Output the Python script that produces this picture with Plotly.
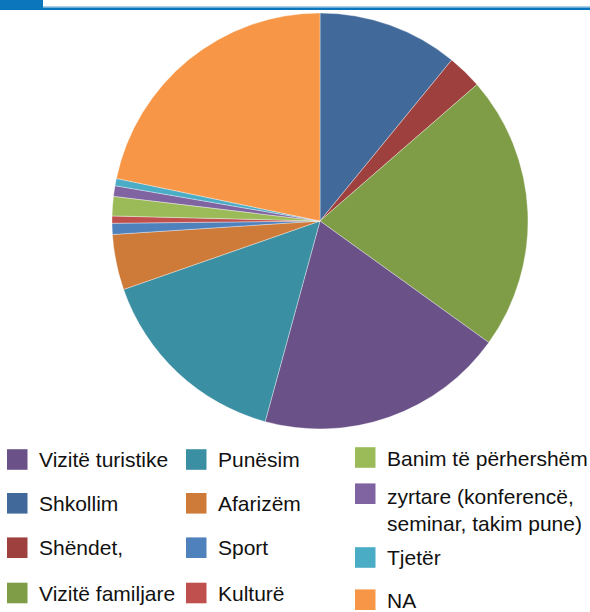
import plotly.graph_objects as go

W, H = 590, 612

# Pie data in clockwise order from 12 o'clock
labels = ["Shkollim", "Shëndet,", "Vizitë familjare", "Vizitë turistike", "Punësim",
          "Afarizëm", "Sport", "Kulturë", "Banim të përhershëm",
          "zyrtare (konferencë,<br>seminar, takim pune)", "Tjetër", "NA"]
values = [10.9, 2.7, 21.3, 19.3, 15.4, 4.3, 0.86, 0.56, 1.5, 0.83, 0.56, 21.7]
colors = ["#416A9B", "#9E413E", "#7F9C46", "#6A5289", "#3B8FA3", "#CE7A38",
          "#4F81BD", "#C0504D", "#9BBB59", "#8064A2", "#4BACC6", "#F79646"]

# Legend layout (column-major, as in the reference)
legend_cols = [
    ["Vizitë turistike", "Shkollim", "Shëndet,", "Vizitë familjare"],
    ["Punësim", "Afarizëm", "Sport", "Kulturë"],
    ["Banim të përhershëm", "zyrtare (konferencë,<br>seminar, takim pune)", "Tjetër", "NA"],
]

fig = go.Figure()
cx, cy, r = 320, 221, 208
fig.add_trace(go.Pie(
    labels=labels, values=values, sort=False, direction="clockwise", rotation=0,
    marker=dict(colors=colors, line=dict(color="rgba(255,255,255,0.6)", width=0.6)),
    textinfo="none", showlegend=False, hoverinfo="label+percent",
    domain=dict(x=[(cx - r) / W, (cx + r) / W], y=[1 - (cy + r) / H, 1 - (cy - r) / H]),
))

def px(x):
    return x / W

def py(y):
    return 1 - y / H

shapes = []
annotations = []
# top header band
shapes.append(dict(type="rect", xref="paper", yref="paper", x0=px(0), x1=px(43), y0=py(10), y1=py(0),
                   fillcolor="#0B76BC", line=dict(width=0)))
shapes.append(dict(type="rect", xref="paper", yref="paper", x0=px(43), x1=px(590), y0=py(7.5), y1=py(6),
                   fillcolor="#A9D0EA", line=dict(width=0)))
shapes.append(dict(type="rect", xref="paper", yref="paper", x0=px(0), x1=px(590), y0=py(10), y1=py(7.5),
                   fillcolor="#0B76BC", line=dict(width=0)))

col_sq_x = [7, 186, 355]
col_txt_x = [37, 216, 385]
sq_centers = [
    [459.5, 503.3, 547.7, 593],
    [459.5, 503.3, 547.7, 593],
    [457.5, 493.7, 557.5, 599.7],
]
txt_centers = [
    [459.5, 503.3, 547.7, 593],
    [459.5, 503.3, 547.7, 593],
    [458.4, 510, 557.8, 600],
]
color_of = dict(zip(labels, colors))
for ci, col in enumerate(legend_cols):
    for ri, lab in enumerate(col):
        yc = sq_centers[ci][ri]
        shapes.append(dict(type="rect", xref="paper", yref="paper",
                           x0=px(col_sq_x[ci]), x1=px(col_sq_x[ci] + 20.5),
                           y0=py(yc + 10.3), y1=py(yc - 10.3),
                           fillcolor=color_of[lab], line=dict(width=0)))
        annotations.append(dict(xref="paper", yref="paper", x=px(col_txt_x[ci]), y=py(txt_centers[ci][ri]),
                                text=lab, showarrow=False, xanchor="left", yanchor="middle", align="left",
                                font=dict(family="Liberation Sans, Arial", size=21,
                                          color="#111111")))

fig.update_layout(
    width=W, height=H, margin=dict(l=0, r=0, t=0, b=0),
    paper_bgcolor="white", plot_bgcolor="white",
    shapes=shapes, annotations=annotations, showlegend=False,
)
fig.write_html("out.html", config={"displayModeBar": False},
               post_script="document.body.style.margin='0px';")
